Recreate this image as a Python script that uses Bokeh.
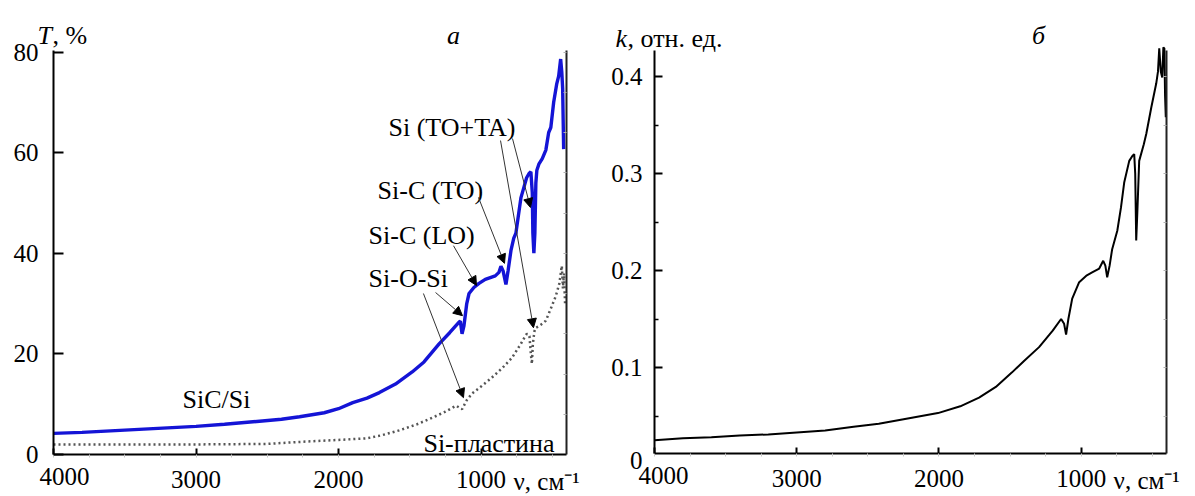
from bokeh.plotting import figure
from bokeh.layouts import row
from bokeh.models import (Range1d, FixedTicker, LinearAxis, Label, Arrow, NormalHead)
from bokeh.embed import file_html
from bokeh.resources import INLINE

# ---------------- data ----------------
# Panel a: transmission T (%) vs wavenumber (cm^-1)
nu_sic = [4000, 3800, 3600, 3400, 3200, 3000, 2800, 2600, 2400, 2273, 2100, 2000, 1900, 1800,
          1713, 1600, 1483, 1400, 1294, 1220, 1154, 1145, 1133, 1120, 1100, 1084, 1050, 1014,
          970, 930, 900, 874, 860, 845, 825, 810, 790, 770, 755, 740, 720, 700, 680, 664, 650,
          640, 636, 629, 622, 615, 608, 594, 570, 545, 525, 510, 490, 469, 455, 441, 433, 427,
          420]
t_sic = [4.2, 4.4, 4.7, 5.0, 5.3, 5.6, 6.0, 6.5, 7.0, 7.5, 8.3, 9.1, 10.3, 11.2,
         12.3, 14.0, 16.4, 18.4, 22.0, 24.2, 26.3, 26.5, 24.0, 25.5, 30.0, 32.0, 33.2, 34.0,
         34.8, 35.2, 35.5, 36.2, 37.4, 36.5, 33.8, 36.5, 40.5, 43.0, 44.0, 47.0, 51.0, 53.0, 55.0, 55.8, 56.2,
         52.0, 44.0, 40.0, 44.0, 54.0, 56.5, 57.7, 58.8, 60.5, 64.0, 65.0, 70.0, 73.6, 75.2, 78.6, 76.0, 72.8,
         60.7]

nu_si = [4000, 3500, 3000, 2500, 2273, 2000, 1804, 1700, 1573, 1450, 1343, 1250, 1175, 1133,
         1100, 1063, 1000, 923, 850, 783, 720, 690, 678, 660, 650, 643, 636, 625, 615, 594,
         570, 545, 510, 475, 450, 433, 425, 418, 410]
t_si = [2.0, 2.0, 2.0, 2.1, 2.5, 2.9, 3.2, 3.8, 4.8, 6.0, 7.3, 8.5, 9.7, 9.0,
        10.8, 12.1, 13.5, 15.3, 17.2, 19.2, 22.0, 23.5, 24.0, 23.5, 20.0, 18.0, 22.0, 24.5, 25.2, 25.5,
        26.0, 26.6, 29.0, 31.5, 34.0, 37.5, 33.0, 36.0, 30.0]

# Panel b: absorption coefficient k (rel. units)
nu_k = [4000, 3800, 3600, 3400, 3200, 3000, 2800, 2600, 2423, 2200, 2007, 1850, 1718, 1600,
        1486, 1400, 1296, 1200, 1141, 1120, 1106, 1090, 1063, 1014, 960, 923, 873, 845, 830,
        817, 800, 782, 746, 720, 697, 662, 640, 627, 620, 613, 605, 592, 560, 542, 507, 472,
        460, 451, 440, 430, 422, 415, 410, 405]
k_val = [0.025, 0.027, 0.028, 0.030, 0.031, 0.033, 0.035, 0.039, 0.042, 0.048, 0.053, 0.060, 0.069, 0.080,
         0.095, 0.107, 0.121, 0.138, 0.150, 0.145, 0.134, 0.150, 0.171, 0.188, 0.195, 0.198, 0.202, 0.210, 0.205,
         0.193, 0.205, 0.222, 0.241, 0.265, 0.291, 0.313, 0.318, 0.320, 0.300, 0.231, 0.260, 0.313, 0.330, 0.341,
         0.368, 0.393, 0.405, 0.429, 0.405, 0.399, 0.430, 0.429, 0.380, 0.358]

x_ticks = [1000, 2000, 3000, 4000]
t_ticks = [0, 20, 40, 60, 80]
k_ticks = [0.1, 0.2, 0.3, 0.4]
k_minor = [0.05, 0.15, 0.25, 0.35]

FONT = "Liberation Serif"
TICK_FS = "25px"
ANN_FS = "26px"
XSTAND = 13  # px between x axis line and its tick labels


def ext_ranges(cw, ch, px0, px1, x0, x1, py0, py1, y0, y1):
    """Ranges for a frame spanning the whole canvas, so that x0 sits at pixel px0,
    x1 at px1, y0 at pixel row py0 and y1 at pixel row py1."""
    sx = (x1 - x0) / (px1 - px0)
    sy = (y1 - y0) / (py0 - py1)
    xr = Range1d(x0 - px0 * sx, x0 + (cw - px0) * sx)
    yr = Range1d(y0 - (ch - py0) * sy, y0 + py0 * sy)
    return xr, yr


def style_axes(p, x_at, y_at, xb, yb):
    p.outline_line_color = None
    p.xgrid.visible = False
    p.ygrid.visible = False
    p.background_fill_color = "white"
    p.border_fill_color = "white"
    p.xaxis.fixed_location = x_at
    p.yaxis.fixed_location = y_at
    p.xaxis.bounds = xb
    p.yaxis.bounds = yb
    for ax in p.xaxis + p.yaxis:
        ax.axis_line_width = 2
        ax.axis_line_color = "black"
        ax.major_tick_line_width = 2
        ax.major_tick_line_color = "black"
        ax.major_tick_out = 0
        ax.major_label_text_font = FONT
        ax.major_label_text_font_size = TICK_FS
        ax.major_label_text_color = "black"
    p.xaxis.ticker = FixedTicker(ticks=x_ticks, minor_ticks=list(range(500, 4001, 250)))
    p.xaxis.major_tick_in = 6
    p.xaxis.minor_tick_in = 0
    p.xaxis.minor_tick_out = 3
    p.xaxis.minor_tick_line_color = "#c8c8c8"
    p.xaxis.major_label_standoff = XSTAND
    p.xaxis.major_label_overrides = {4000: ""}


def right_border(p, at, yb, minor):
    ax = LinearAxis(ticker=FixedTicker(ticks=[], minor_ticks=minor))
    ax.fixed_location = at
    ax.bounds = yb
    ax.axis_line_width = 2
    ax.axis_line_color = "#222222"
    ax.major_tick_in = 0
    ax.major_tick_out = 0
    ax.minor_tick_in = 3
    ax.minor_tick_out = 0
    ax.minor_tick_line_color = "#b0b0b0"
    ax.major_label_text_font_size = "0px"
    p.add_layout(ax, "right")


def lab(p, x, y, text, size=ANN_FS, style="normal", align="left", baseline="alphabetic", xo=0):
    p.add_layout(Label(x=x, y=y, text=text, text_font=FONT, text_font_size=size,
                       text_font_style=style, text_align=align, text_baseline=baseline,
                       x_offset=xo, text_color="black"))


# ---------------- panel a ----------------
W1, W2, H = 598, 597, 496
T_TOP = 80.3
T_PX = 80 / 402.5  # data units per pixel
xr1, yr1 = ext_ranges(W1, H, 53, 566, 4000, 400, 454, 51.5, 0, 80)
p1 = figure(width=W1, height=H, output_backend="svg", toolbar_location=None,
            x_range=xr1, y_range=yr1, min_border=0)
p1.min_border_left = p1.min_border_right = p1.min_border_top = p1.min_border_bottom = 0
style_axes(p1, 0, 4000, (400, 4000), (0, T_TOP))
p1.yaxis.ticker = FixedTicker(ticks=t_ticks)
p1.yaxis.major_tick_in = 10
p1.yaxis.minor_tick_in = 0
p1.yaxis.minor_tick_out = 0
p1.yaxis.major_label_standoff = 15
right_border(p1, 400, (0, T_TOP), list(range(8, 81, 8)))

p1.line(nu_si, t_si, line_width=2.5, line_color="#555555", line_dash="2 3")
p1.line(nu_sic, t_sic, line_width=3.4, line_color="#1414d6")

lab(p1, 3923, -XSTAND * T_PX, "4000", size=TICK_FS, align="center", baseline="top")
lab(p1, 772, -XSTAND * T_PX, "ν, см⁻¹", size=TICK_FS, baseline="top")
lab(p1, 4112, 83.3, "T", style="italic")
lab(p1, 4112, 83.3, ", %", xo=15)
lab(p1, 1193, 83.3, "а", style="italic", align="center")

lab(p1, 1649, 65.0, "Si (TO+TA)")
lab(p1, 1726, 52.5, "Si-C (TO)")
lab(p1, 1789, 43.5, "Si-C (LO)")
lab(p1, 1789, 35.0, "Si-O-Si")
lab(p1, 1404, 2.2, "Si-пластина")
lab(p1, 3095, 10.9, "SiC/Si")

arrows = [((779, 62.8), (653, 49.1)),
          ((863, 62.4), (632, 25.2)),
          ((1018, 51.1), (835, 38.0)),
          ((1193, 41.5), (1032, 33.6)),
          ((1319, 32.2), (1130, 27.6)),
          ((1404, 32.0), (1123, 11.3))]
for (xs, ys), (xe, ye) in arrows:
    p1.add_layout(Arrow(end=NormalHead(size=9, fill_color="black", line_color="black", line_width=1),
                        x_start=xs, y_start=ys, x_end=xe, y_end=ye,
                        line_width=1, line_color="#333333"))

# ---------------- panel b ----------------
K_BOT, K_TOP = 0.0113, 0.4268
xr2, yr2 = ext_ranges(W2, H, 56, 568, 4000, 400, 464, 76, 0, 0.4)
p2 = figure(width=W2, height=H, output_backend="svg", toolbar_location=None,
            x_range=xr2, y_range=yr2, min_border=0)
p2.min_border_left = p2.min_border_right = p2.min_border_top = p2.min_border_bottom = 0
style_axes(p2, K_BOT, 4000, (400, 4000), (K_BOT, K_TOP))
p2.yaxis.ticker = FixedTicker(ticks=k_ticks, minor_ticks=k_minor)
p2.yaxis.major_tick_in = 8
p2.yaxis.minor_tick_in = 4
p2.yaxis.minor_tick_out = 0
p2.yaxis.minor_tick_line_width = 1.5
p2.yaxis.minor_tick_line_color = "black"
p2.yaxis.major_label_standoff = 12
p2.yaxis.major_label_overrides = {0.1: "0.1", 0.2: "0.2", 0.3: "0.3", 0.4: "0.4"}
right_border(p2, 400, (K_BOT, K_TOP), [0.05, 0.1, 0.15, 0.2, 0.25, 0.3, 0.35, 0.4])

p2.line(nu_k, k_val, line_width=2, line_color="black")

lab(p2, 4000, 0.004, "0", size=TICK_FS, align="right", baseline="middle", xo=-12)
lab(p2, 3937, K_BOT - XSTAND / 970, "4000", size=TICK_FS, align="center", baseline="top")
lab(p2, 772, K_BOT - XSTAND / 970, "ν, см⁻¹", size=TICK_FS, baseline="top")
lab(p2, 4274, 0.439, "k", style="italic")
lab(p2, 4274, 0.439, ", отн. ед.", xo=12)
lab(p2, 1300, 0.4423, "б", style="italic", align="center")

layout = row(p1, p2)
open("out.html", "w").write(file_html(layout, INLINE))
